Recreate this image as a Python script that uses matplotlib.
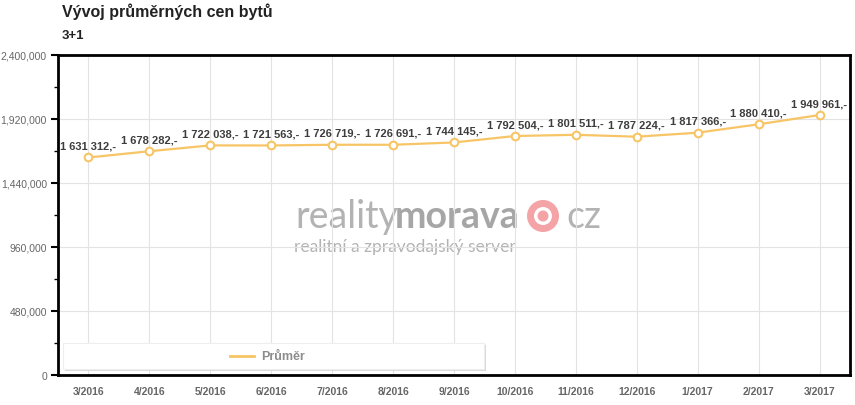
"""Vývoj průměrných cen bytů 3+1 — recreated line chart."""
import matplotlib
matplotlib.use("Agg")
import matplotlib.pyplot as plt
from matplotlib.ticker import FuncFormatter, MultipleLocator
from matplotlib.patches import Circle, Rectangle

MONTHS = ["3/2016", "4/2016", "5/2016", "6/2016", "7/2016", "8/2016", "9/2016",
          "10/2016", "11/2016", "12/2016", "1/2017", "2/2017", "3/2017"]
PRICES = [1631312, 1678282, 1722038, 1721563, 1726719, 1726691, 1744145,
          1792504, 1801511, 1787224, 1817366, 1880410, 1949961]

LINE_COLOR = "#f7c566"
GRID_COLOR = "#e3e3e3"
TICK_COLOR = "#666666"
LABEL_COLOR = "#3d3d3d"
WM_GRAY = "#b3b3b3"
WM_PINK = "#f4a3a6"

plt.rcParams["font.family"] = ["Liberation Sans", "DejaVu Sans"]

fig = plt.figure(figsize=(8.55, 4.06), dpi=100)
ax = fig.add_axes([58 / 855, 30 / 406, 792 / 855, 320 / 406])
ax.patch.set_alpha(0)

x = list(range(len(MONTHS)))
ax.plot(x, PRICES, color=LINE_COLOR, linewidth=1.6, marker="o", markersize=5.5,
        markerfacecolor="white", markeredgecolor=LINE_COLOR, markeredgewidth=1.5,
        zorder=4)

for xi, val in zip(x, PRICES):
    txt = f"{val:,}".replace(",", " ") + ",-"
    ax.annotate(txt, (xi, val), xytext=(0, 5), textcoords="offset points",
                ha="center", va="bottom", fontsize=8, fontweight="bold",
                color=LABEL_COLOR, zorder=5)

ax.set_xlim(-0.5, len(MONTHS) - 0.5)
ax.set_ylim(0, 2400000)
ax.set_xticks(x)
ax.set_xticklabels(MONTHS, fontsize=7.5, fontweight="bold", color=TICK_COLOR)
ax.yaxis.set_major_locator(MultipleLocator(480000))
ax.yaxis.set_minor_locator(MultipleLocator(240000))
ax.yaxis.set_major_formatter(FuncFormatter(lambda v, p: f"{int(v):,}"))
ax.tick_params(axis="y", which="major", length=5, width=1.5, color="black",
               labelsize=7.5, labelcolor=TICK_COLOR, pad=3)
ax.tick_params(axis="y", which="minor", length=3, width=1, color="black")
ax.tick_params(axis="x", length=0, pad=8)

ax.grid(True, color=GRID_COLOR, linewidth=0.8)
ax.set_axisbelow(True)
for spine in ax.spines.values():
    spine.set_color("black")
    spine.set_linewidth(2)

# watermark (sits behind the transparent axes)
base = 1 - 228 / 406
fig.text(295 / 855, base, "reality", fontsize=27, color=WM_GRAY,
         family="Lato", fontweight="normal", ha="left", va="baseline", zorder=-1)
fig.text(395 / 855, base, "morava", fontsize=27, color="#a6a6a6",
         family="Lato", fontweight="bold", ha="left", va="baseline", zorder=-1)
for r, col in ((16, WM_PINK), (9, "white"), (5.5, WM_PINK)):
    fig.patches.append(Circle((543, 406 - 217), r, transform=None,
                              facecolor=col, edgecolor="none", zorder=-1))
fig.text(566 / 855, base, "cz", fontsize=27, color=WM_GRAY,
         family="Lato", fontweight="normal", ha="left", va="baseline", zorder=-1)
fig.text(294 / 855, 1 - 252 / 406, "realitní a zpravodajský server", fontsize=12.5,
         color=WM_GRAY, family="Lato", ha="left", va="baseline", zorder=-1)

# legend box with soft shadow
fig.patches.append(Rectangle((65 / 855, 1 - 372 / 406), 421 / 855, 26 / 406,
                             transform=fig.transFigure, facecolor="#d9d9d9",
                             edgecolor="none", zorder=3))
fig.patches.append(Rectangle((63 / 855, 1 - 370 / 406), 421 / 855, 26 / 406,
                             transform=fig.transFigure, facecolor="white",
                             edgecolor="#eeeeee", linewidth=0.8, zorder=3))
fig.lines.append(plt.Line2D([230 / 855, 254 / 855], [1 - 357 / 406, 1 - 357 / 406],
                            transform=fig.transFigure, color=LINE_COLOR,
                            linewidth=2, zorder=6))
fig.text(261 / 855, 1 - 357 / 406, "Průměr", fontsize=9, fontweight="bold",
         color="#8c8c8c", ha="left", va="center", zorder=6)

fig.text(62 / 855, 1 - 12 / 406, "Vývoj průměrných cen bytů", fontsize=11.5,
         fontweight="bold", color="#222222", ha="left", va="center")
fig.text(62 / 855, 1 - 36 / 406, "3+1", fontsize=9.5, fontweight="bold",
         color="#222222", ha="left", va="center")

fig.savefig("out.png", dpi=100, facecolor="white")
